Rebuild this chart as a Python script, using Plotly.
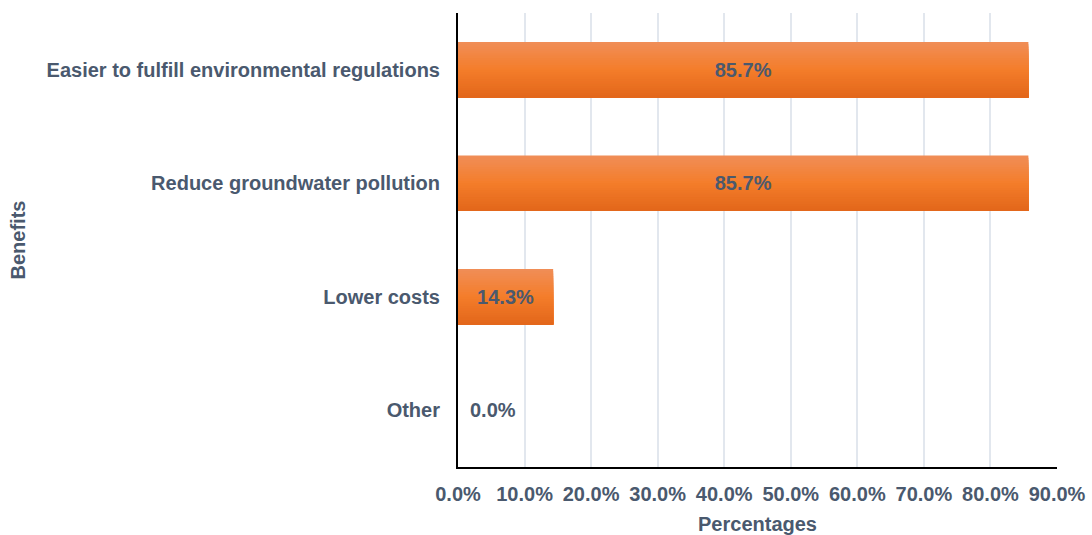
import plotly.graph_objects as go

# Survey results: perceived benefits
categories = [
    "Easier to fulfill environmental regulations",
    "Reduce groundwater pollution",
    "Lower costs",
    "Other",
]
percentages = [85.7, 85.7, 14.3, 0.0]
tick_values = [0, 10, 20, 30, 40, 50, 60, 70, 80, 90]
tick_labels = ["0.0%", "10.0%", "20.0%", "30.0%", "40.0%", "50.0%",
               "60.0%", "70.0%", "80.0%", "90.0%"]

TEXT_COLOR = "#4A596E"
FONT = "Liberation Sans, Arial, sans-serif"
FONT_SIZE = 20
BAR_WIDTH = 0.49

# vertical gradient stops for the bar fill (top -> middle -> bottom)
stops = [(0.0, (240, 142, 88)), (0.5, (244, 125, 42)), (1.0, (226, 102, 26))]


def blend(t):
    for (t0, c0), (t1, c1) in zip(stops[:-1], stops[1:]):
        if t0 <= t <= t1:
            f = (t - t0) / (t1 - t0)
            return "rgb({},{},{})".format(*[round(a + (b - a) * f) for a, b in zip(c0, c1)])
    return "rgb({},{},{})".format(*stops[-1][1])


bold = dict(family=FONT, size=FONT_SIZE, color=TEXT_COLOR, weight="bold")

fig = go.Figure()

# gradient fill: each strip runs from its own start to the bottom of the bar,
# later strips are painted over earlier ones
n_strips = 24
strip_w = BAR_WIDTH / n_strips
for i in range(n_strips):
    t = (i + 0.5) / n_strips
    fig.add_trace(go.Bar(
        x=percentages,
        y=categories,
        orientation="h",
        width=BAR_WIDTH - i * strip_w,
        offset=-BAR_WIDTH / 2 + i * strip_w,
        marker=dict(color=blend(t), line=dict(width=0)),
        hoverinfo="skip",
        showlegend=False,
    ))

# value labels inside the bars
inside_text = [f"{v:.1f}%" if v > 0 else "" for v in percentages]
fig.add_trace(go.Bar(
    x=percentages,
    y=categories,
    orientation="h",
    width=BAR_WIDTH,
    marker=dict(color="rgba(0,0,0,0)", line=dict(width=0)),
    text=inside_text,
    textposition="inside",
    insidetextanchor="middle",
    constraintext="none",
    textfont=bold,
    cliponaxis=False,
    hoverinfo="skip",
    showlegend=False,
))

# label for empty bars, placed just right of the axis
for cat, v in zip(categories, percentages):
    if v == 0:
        fig.add_annotation(x=v, y=cat, text=f"{v:.1f}%", showarrow=False,
                           xanchor="left", xshift=10, font=bold)

fig.update_layout(
    width=1092,
    height=535,
    barmode="overlay",
    margin=dict(l=458, r=35, t=13, b=68),
    plot_bgcolor="white",
    paper_bgcolor="white",
    font=dict(family=FONT, color=TEXT_COLOR),
    xaxis=dict(
        range=[0, 90],
        tickvals=tick_values,
        ticktext=tick_labels,
        tickfont=bold,
        showgrid=True,
        gridcolor="#E2E7EE",
        gridwidth=2,
        zeroline=False,
        showline=True,
        linecolor="black",
        linewidth=2,
        ticks="",
        ticklabelstandoff=8,
        automargin=False,
        title=dict(text="Percentages", standoff=14, font=bold),
        fixedrange=True,
    ),
    yaxis=dict(
        categoryorder="array",
        categoryarray=categories,
        autorange="reversed",
        tickfont=bold,
        showgrid=False,
        zeroline=False,
        showline=True,
        linecolor="black",
        linewidth=2,
        ticks="",
        ticklabelstandoff=12,
        automargin=False,
        title=dict(text="Benefits", standoff=16, font=bold),
        fixedrange=True,
    ),
)

fig.write_html("out.html")
